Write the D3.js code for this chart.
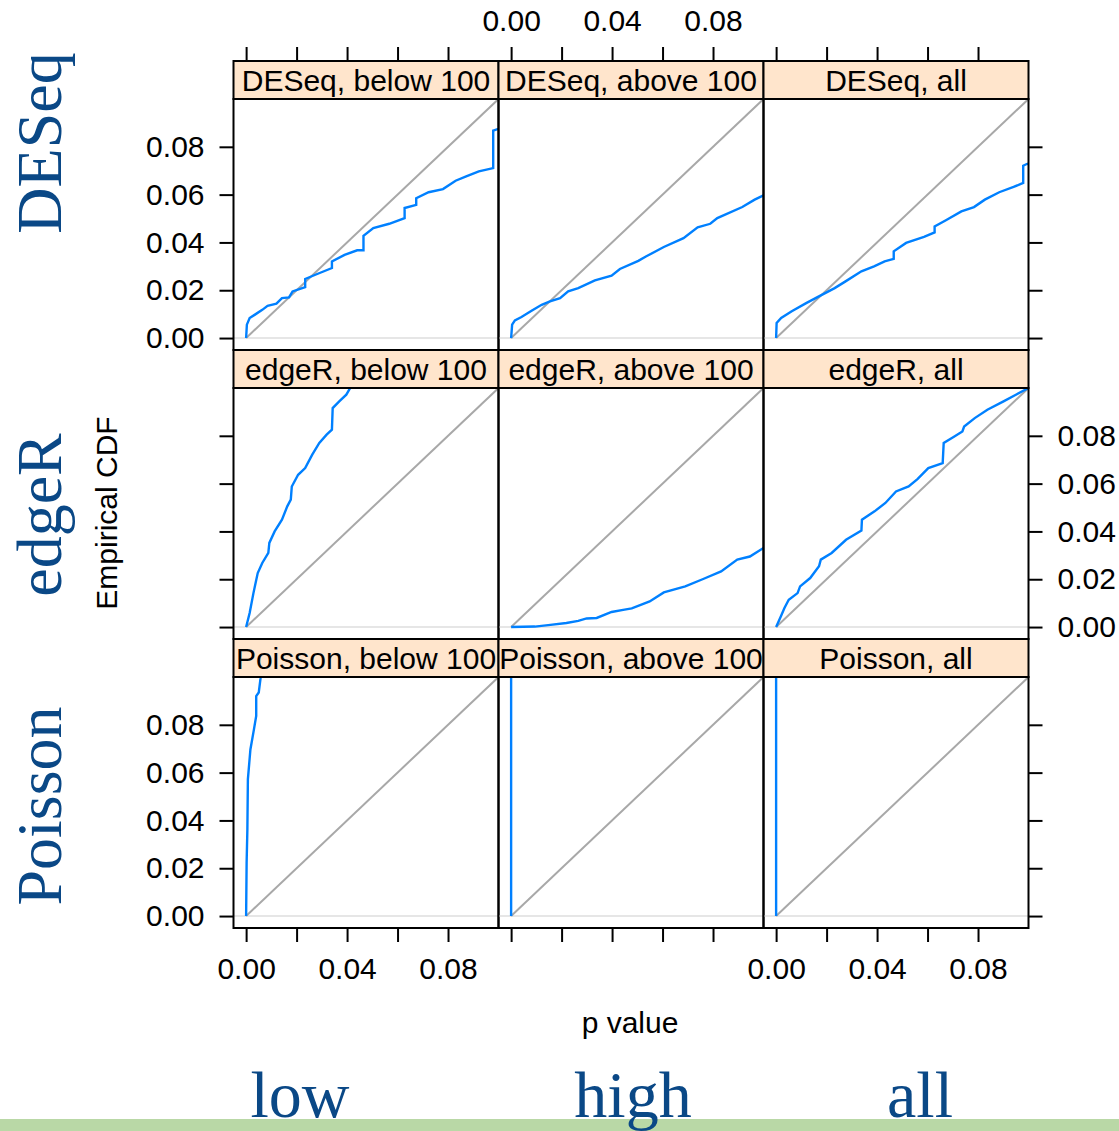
<!DOCTYPE html>
<html>
<head>
<meta charset="utf-8">
<script src="https://cdn.jsdelivr.net/npm/d3@7"></script>
<style>
    body { margin: 0; background: #fff; }
    text { font-family: "Liberation Sans", Arial, sans-serif; }
    .axis text { font-size: 30px; fill: #000; }
    .axis line { stroke: #000; stroke-width: 2; }
    .strip-text { font-size: 30px; }
    .big-label { font-family: "Liberation Serif", "DejaVu Serif", serif; fill: #0a4886; }
</style>
</head>
<body>
<div id="chart"></div>
<script>
// rows and columns of the lattice
let methods = ["DESeq", "edgeR", "Poisson"];
let groups = ["below 100", "above 100", "all"];
let groupNames = ["low", "high", "all"];
let xTicks = [0, 0.02, 0.04, 0.06, 0.08];
let yTicks = [0, 0.02, 0.04, 0.06, 0.08];
let xLabelled = [0, 0.04, 0.08];

// ecdf traces: [p value, empirical CDF]
let deseqBelow = [[0,0],[0.0003,0.0056],[0.0014,0.0084],[0.0035,0.0098],[0.0064,0.0118],[0.0085,0.0135],[0.012,0.0144],
    [0.0142,0.0167],[0.017,0.017],[0.0184,0.0195],[0.0234,0.0213],[0.0234,0.0247],[0.0284,0.0269],[0.034,0.0293],
    [0.034,0.032],[0.039,0.0348],[0.044,0.0367],[0.0465,0.0367],[0.0465,0.0428],[0.0504,0.046],[0.0567,0.0478],
    [0.0628,0.0502],[0.0628,0.0544],[0.0674,0.0557],[0.0674,0.0585],[0.0723,0.061],[0.078,0.0623],[0.083,0.0658],
    [0.0872,0.0676],[0.0922,0.0697],[0.0979,0.0711],[0.0979,0.0868],[0.0996,0.0874],[0.1,0.0874]];
let deseqAbove = [[0,0],[0.0004,0.0056],[0.0015,0.0074],[0.0041,0.0088],[0.0081,0.0114],[0.0121,0.0139],[0.0154,0.0153],
    [0.0194,0.0167],[0.0226,0.0195],[0.0266,0.0209],[0.0332,0.0241],[0.0398,0.0261],[0.0431,0.0289],[0.0504,0.0323],
    [0.0534,0.0341],[0.0605,0.0381],[0.0683,0.0418],[0.0739,0.0463],[0.0789,0.0478],[0.0817,0.0502],[0.0916,0.0548],
    [0.0965,0.0579],[0.1,0.0597]];
let deseqAll = [[0,0],[0.0002,0.0063],[0.002,0.0084],[0.0062,0.0112],[0.0119,0.0146],[0.0162,0.017],[0.0232,0.0209],
    [0.0275,0.0237],[0.0338,0.0279],[0.0388,0.03],[0.043,0.0321],[0.0466,0.0331],[0.0466,0.0363],[0.0515,0.0398],
    [0.0586,0.0423],[0.0628,0.0442],[0.0628,0.0467],[0.0671,0.0492],[0.0734,0.053],[0.0784,0.0548],[0.0827,0.0579],
    [0.0884,0.061],[0.0941,0.0632],[0.0979,0.0649],[0.0979,0.0721],[0.0993,0.0728],[0.1,0.073]];
let edgerBelow = [[0,0],[0.0014,0.0059],[0.0029,0.0142],[0.0046,0.0226],[0.0064,0.0268],[0.0088,0.031],[0.0092,0.0352],
    [0.0113,0.04],[0.0142,0.0449],[0.0163,0.0505],[0.0177,0.0533],[0.0181,0.0588],[0.0206,0.0637],[0.0234,0.0665],
    [0.0262,0.0721],[0.029,0.077],[0.0319,0.0805],[0.034,0.0826],[0.0343,0.0916],[0.0369,0.0944],[0.0397,0.0972],
    [0.0415,0.1005]];
let edgerAbove = [[0,0],[0.0094,0.0002],[0.0147,0.0008],[0.0219,0.0017],[0.0266,0.0026],[0.0299,0.0036],[0.0339,0.0038],
    [0.0398,0.0063],[0.0444,0.0072],[0.0478,0.0078],[0.0549,0.0107],[0.0605,0.0145],[0.069,0.017],[0.0761,0.0201],
    [0.0832,0.0233],[0.0896,0.0282],[0.0946,0.0295],[0.1,0.0331]];
let edgerAll = [[0,0],[0.0019,0.0045],[0.0033,0.008],[0.005,0.0114],[0.0085,0.0142],[0.0095,0.017],[0.0135,0.0205],
    [0.017,0.0254],[0.0177,0.0282],[0.022,0.031],[0.0277,0.0365],[0.0338,0.0404],[0.034,0.0449],[0.039,0.0484],
    [0.0433,0.0519],[0.0475,0.0567],[0.0525,0.0588],[0.056,0.0619],[0.0603,0.0665],[0.066,0.0686],[0.0664,0.077],
    [0.0703,0.0795],[0.0738,0.0818],[0.0745,0.0839],[0.0787,0.0874],[0.0837,0.0909],[0.0901,0.0944],[0.095,0.0972],
    [0.1,0.1]];
let poissonBelow = [[0,0],[0.0002,0.0223],[0.0005,0.0363],[0.0007,0.0572],[0.0017,0.0697],[0.0031,0.0781],
    [0.004,0.0837],[0.004,0.092],[0.005,0.0935],[0.0057,0.0993],[0.0058,0.101]];
let poissonAbove = [[0,0],[0,0.101]];
let poissonAll = [[0,0],[0,0.101]];

let panelData = [
    [deseqBelow, deseqAbove, deseqAll],
    [edgerBelow, edgerAbove, edgerAll],
    [poissonBelow, poissonAbove, poissonAll]
];

let totalWidth = 1119, totalHeight = 1131;
let left = 233.5, panelW = 265;
let top0 = 61, stripH = 38, panelH = 251;
let domain = [-0.005, 0.1];
let tickLen = 14;

let svg = d3.select("#chart").append("svg")
    .attr("width", totalWidth)
    .attr("height", totalHeight);

function colX(c) { return left + c * panelW; }
function stripY(r) { return top0 + r * (stripH + panelH); }
function panelY(r) { return stripY(r) + stripH; }

let fmt = d3.format(".2f");
let line = d3.line();

methods.forEach((m, r) => {
    let yScale = d3.scaleLinear().domain(domain).range([panelY(r) + panelH, panelY(r)]);
    groups.forEach((g, c) => {
        let xScale = d3.scaleLinear().domain(domain).range([colX(c), colX(c) + panelW]);
        let id = "clip-" + r + "-" + c;
        svg.append("clipPath").attr("id", id)
            .append("rect")
            .attr("x", colX(c)).attr("y", panelY(r))
            .attr("width", panelW).attr("height", panelH);

        let p = svg.append("g").attr("clip-path", "url(#" + id + ")");

        // reference at 0
        p.append("line")
            .attr("x1", xScale(domain[0])).attr("x2", xScale(domain[1]))
            .attr("y1", yScale(0)).attr("y2", yScale(0))
            .attr("stroke", "#e6e6e6").attr("stroke-width", 2);

        // uniform diagonal
        p.append("line")
            .attr("x1", xScale(0)).attr("y1", yScale(0))
            .attr("x2", xScale(0.1)).attr("y2", yScale(0.1))
            .attr("stroke", "#a8a8a8").attr("stroke-width", 2);

        line.x(d => xScale(d[0])).y(d => yScale(d[1]));
        p.append("path")
            .datum(panelData[r][c])
            .attr("d", line)
            .attr("fill", "none")
            .attr("stroke", "#0080ff")
            .attr("stroke-width", 2.4);

        // strip
        svg.append("rect")
            .attr("x", colX(c)).attr("y", stripY(r))
            .attr("width", panelW).attr("height", stripH)
            .attr("fill", "#ffe5cc").attr("stroke", "#000").attr("stroke-width", 2);
        svg.append("text")
            .attr("class", "strip-text")
            .attr("x", colX(c) + panelW / 2)
            .attr("y", stripY(r) + stripH / 2)
            .attr("dy", "0.36em")
            .attr("text-anchor", "middle")
            .text(m + ", " + g);

        svg.append("rect")
            .attr("x", colX(c)).attr("y", panelY(r))
            .attr("width", panelW).attr("height", panelH)
            .attr("fill", "none").attr("stroke", "#000").attr("stroke-width", 2);

        // top and bottom axes, labels alternate
        if (r == 0) {
            let ax = d3.axisTop(xScale).tickValues(xTicks).tickSize(tickLen).tickSizeOuter(0).tickPadding(16)
                .tickFormat(d => (c == 1 && xLabelled.includes(d)) ? fmt(d) : "");
            svg.append("g").attr("class", "axis")
                .attr("transform", "translate(0," + stripY(0) + ")")
                .call(ax).call(a => a.select(".domain").remove());
        }
        if (r == 2) {
            let ax = d3.axisBottom(xScale).tickValues(xTicks).tickSize(tickLen).tickSizeOuter(0).tickPadding(16)
                .tickFormat(d => (c != 1 && xLabelled.includes(d)) ? fmt(d) : "");
            svg.append("g").attr("class", "axis")
                .attr("transform", "translate(0," + (panelY(2) + panelH) + ")")
                .call(ax).call(a => a.select(".domain").remove());
        }
    });

    // left and right axes
    let yl = d3.axisLeft(yScale).tickValues(yTicks).tickSize(tickLen).tickSizeOuter(0).tickPadding(15)
        .tickFormat(d => r != 1 ? fmt(d) : "");
    svg.append("g").attr("class", "axis")
        .attr("transform", "translate(" + colX(0) + ",0)")
        .call(yl).call(a => a.select(".domain").remove());
    let yr = d3.axisRight(yScale).tickValues(yTicks).tickSize(tickLen).tickSizeOuter(0).tickPadding(15)
        .tickFormat(d => r == 1 ? fmt(d) : "");
    svg.append("g").attr("class", "axis")
        .attr("transform", "translate(" + colX(3) + ",0)")
        .call(yr).call(a => a.select(".domain").remove());
});

// axis titles
svg.append("text")
    .attr("x", 630).attr("y", 1033)
    .attr("text-anchor", "middle")
    .style("font-size", "30px")
    .text("p value");
svg.append("text")
    .attr("transform", "translate(117,513) rotate(-90)")
    .attr("text-anchor", "middle")
    .style("font-size", "30px")
    .text("Empirical CDF");

// big row labels
let rowCenters = [143, 515, 806];
methods.forEach((m, r) => {
    svg.append("text")
        .attr("class", "big-label")
        .attr("transform", "translate(61," + rowCenters[r] + ") rotate(-90)")
        .attr("text-anchor", "middle")
        .style("font-size", "64px")
        .text(m);
});

// green band and column labels
svg.append("rect")
    .attr("x", 0).attr("y", 1119)
    .attr("width", totalWidth).attr("height", 12)
    .attr("fill", "#b9d8a6");
let colCenters = [300, 633, 920];
groupNames.forEach((g, c) => {
    svg.append("text")
        .attr("class", "big-label")
        .attr("x", colCenters[c]).attr("y", 1117)
        .attr("text-anchor", "middle")
        .style("font-size", "66px")
        .text(g);
});
</script>
</body>
</html>
